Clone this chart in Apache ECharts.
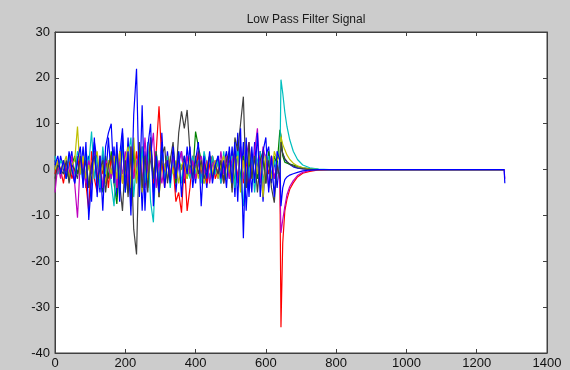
<!DOCTYPE html>
<html>
<head>
<meta charset="utf-8">
<script src="https://cdn.jsdelivr.net/npm/echarts@6/dist/echarts.min.js"></script>
<style>
  html, body { margin: 0; padding: 0; background: #cccccc; }
  #chart { width: 570px; height: 370px; }
</style>
</head>
<body>
<div id="chart"></div>
<script>
// Sample positions of the raw (noisy) part of each channel
const xNoise = [0, 8, 16, 24, 32, 40, 48, 56, 64, 72,
  80, 88, 96, 104, 112, 120, 128, 136, 144, 152,
  160, 168, 176, 184, 192, 200, 208, 216, 224, 232,
  240, 248, 256, 264, 272, 280, 288, 296, 304, 312,
  320, 328, 336, 344, 352, 360, 368, 376, 384, 392,
  400, 408, 416, 424, 432, 440, 448, 456, 464, 472,
  480, 488, 496, 504, 512, 520, 528, 536, 544, 552,
  560, 568, 576, 584, 592, 600, 608, 616, 624, 632,
  640];
// Sample positions of the filter response tail
const xDecay = [643, 648, 654, 660, 668, 678, 690, 705, 725, 750, 780, 1278];
const xEnd = [1280];

// Channel 1 (blue)
const blueA = [2, -1, 3, 0, -2, 1, 4, -3, 2, -1,
  5, -4, 3, -7, 6, 2, -5, 4, -3, 7,
  -2, 5, -6, 3, 9, -4, 7, -8, 5, -3,
  6, -9, 4, -2, 7, -5, 3, -6, 8, -3,
  4, -2, 3, -5, 2, 4, -3, 5, -1, 2,
  -3, 4, -2, 1, -4, 3, 2, -1, 3, -3,
  1, 4, -2, 5, -6, 8, -4, 6, -9, 3,
  -5, 6, -2, 4, -7, 3, 5, -3, 2, -4,
  3];
const blueADecay = [5, 3.5, 2.2, 1.6, 1.1, 0.6, 0.3, 0.15, 0.05, 0, 0, 0];

// Channel 2 (green)
const green = [0, 1, -1, 2, 0, -2, 1, 3, -1, 2,
  -2, 3, -4, 1, 4, -3, 2, -5, 3, -2,
  4, -3, -7.5, 2, 5, -4, 3, -6, 4, -2,
  5, -3, 2, -4, 3, -2, 4, -3, 2, -1,
  3, -2, 1, -3, 2, 0, 3, -2, 1, -1,
  8.3, 5, 2, -3, 1, -2, 3, -1, 2, 0,
  -2, 3, -1, 2, -3, 4, -2, 3, -4, 2,
  -1, 3, -2, 1, 2, -3, 4, -2, 3, 1,
  8.7];
const greenDecay = [7.5, 3, 1.6, 1.4, 1.2, 1, 0.7, 0.4, 0.2, 0.05, 0, 0];

// Channel 3 (red)
const red = [-1, 2, 0, -3, 1, 2, -2, 0, 3, -1,
  2, -3, -9, 4, -2, -5, 3, -1, 2, -4,
  3, -2, -4, 4, -3, 2, -5, 3, -2, 4,
  -3, 5, -4, 2, 6, -3, 4, 13.8, 2, -4,
  3, -2, 1, -7, -5, -9.4, 2, -9, -4, 3,
  -2, 4, -1, 2, -3, 1, 3, -2, 0, 2,
  -3, 1, 2, -4, 3, -2, 5, -3, 2, -4,
  3, -2, 1, 4, -3, 2, -1, 3, -2, 1,
  -2];
const redDecay = [-34.4, -16, -9, -6.5, -4.3, -2.9, -1.6, -0.8, -0.4, -0.1, 0, 0];

// Channel 4 (cyan)
const cyan = [3, -1, 2, 1, -2, 3, 0, -1, 4, 2,
  -3, 4, 1, 8.3, -2, 3, -4, 5, -1, 2,
  -3, -8, 4, -2, 6, -5, 3, 7, -6, 2,
  -4, 5, -3, 6, -7, -11.5, 4, -3, 5, -2,
  3, -4, 2, -1, 4, -3, 2, 1, -2, 3,
  -1, 2, -3, 4, 1, -2, 3, -1, 2, -3,
  4, -2, 1, 3, -4, 5, -3, -8, 4, -2,
  3, -5, 2, 4, -3, 1, 3, -2, 2, -1,
  1];
const cyanDecay = [19.6, 16.7, 12.5, 9.4, 6.5, 4, 2.2, 1, 0.4, 0.1, 0, 0];

// Channel 5 (magenta)
const magenta = [-5, 1, -2, 2, 0, -1, 3, -3, -10.5, 2,
  1, -3, 2, -1, 4, -2, 3, -4, 2, 1,
  -2, 3, -4, 2, -1, 4, -3, 5, -2, 1,
  4, -3, 7, -2, 3, 8, -4, 2, -3, 1,
  2, -1, 3, -2, 1, 4, -2, 3, -1, 2,
  -2, 1, 3, -1, 2, -3, 1, 2, -2, 4,
  -1, 3, -2, 2, 4, -3, 5, -2, 3, 6,
  -2, 4, 9, -3, 5, 2, -4, 3, -2, 1,
  -3];
const magentaDecay = [-13.8, -11, -8, -5.5, -3.7, -2.4, -1.3, -0.6, -0.2, 0, 0, 0];
const magentaEnd = [-2];

// Channel 6 (olive yellow)
const yellow = [0, 2, -1, 1, 3, -2, 1, 2, 9.4, -1,
  3, -2, 1, -3, 2, 4, -2, 1, -3, 2,
  -1, 3, -2, 4, -3, 2, 5, -4, 7, -3,
  3, -5, 2, -2, 4, -1, 3, -6, 2, 1,
  -2, 3, -1, 2, -3, 1, 2, -2, 3, -1,
  1, -2, 2, -3, 1, 3, -1, 2, -2, 1,
  3, -2, 1, -4, 2, 3, -5, 2, -3, 4,
  -2, 3, -1, 2, -6, 3, 1, -2, 4, 2,
  3];
const yellowDecay = [7.2, 5.5, 4.3, 3.2, 2.2, 1.4, 0.8, 0.4, 0.1, 0, 0, 0];

// Channel 7 (dark grey)
const grey = [-2, 1, 0, -1, 2, -3, 1, 0, -2, 3,
  -1, 2, -4, 1, 3, -2, 0, 2, -5, 1,
  3, -2, 4, -3, -9, 2, -6, 5, -13, -18.5,
  6, -4, 3, -5, 7, -2, 4, -6, 3, 5,
  -3, 2, 6, -2, 8, 12.7, 9, 13, 4, -2,
  3, -1, 2, -2, 0, 3, -2, 1, -1, 2,
  -3, 2, 4, -5, 7, 4, 10, 15.9, -4, 6,
  -2, 3, -5, 2, 4, -3, 2, -4, -7.2, 1,
  -2];
const greyDecay = [6, 3.5, 2.4, 1.8, 1.2, 0.8, 0.4, 0.2, 0, 0, 0, 0];

// Channel 8 (blue, drawn last)
const blueB = [1, 3, -1, 2, -2, 4, 0, -3, 2, 5,
  -4, 6, -11, -2, 7, -6, 3, -9, 5, 8,
  10, -3, 6, -7, 8, -5, 4, -10, 12, 22,
  -6, 14, -9, 5, 10, -8, 3, -5, 6, -4,
  2, -3, 5, -2, 4, -6, 3, -1, 5, -4,
  2, 6, -8, 3, -2, 4, -3, 1, 3, -2,
  2, -4, 5, -3, 6, -7, 9, -15, 7, -6,
  5, -3, 8, -6, 4, 7, -5, 3, -6, 4,
  2];
const blueBDecay = [-8, -4, -2.2, -1.6, -1.2, -0.9, -0.6, -0.3, -0.1, 0, 0, 0];
const blueBEnd = [-3];

const xTicks = [0, 200, 400, 600, 800, 1000, 1200, 1400];
const yTicks = [-40, -30, -20, -10, 0, 10, 20, 30];

function pairs(noise, decay, end) {
  const out = [];
  noise.forEach((v, i) => out.push([xNoise[i], v]));
  decay.forEach((v, i) => out.push([xDecay[i], v]));
  (end || []).forEach((v, i) => out.push([xEnd[i], v]));
  return out;
}

const channels = [
  { data: pairs(blueA, blueADecay), color: '#0000ff' },
  { data: pairs(green, greenDecay), color: '#008000' },
  { data: pairs(red, redDecay), color: '#ff0000' },
  { data: pairs(cyan, cyanDecay), color: '#00bfbf' },
  { data: pairs(magenta, magentaDecay, magentaEnd), color: '#bf00bf' },
  { data: pairs(yellow, yellowDecay), color: '#bfbf00' },
  { data: pairs(grey, greyDecay), color: '#404040' },
  { data: pairs(blueB, blueBDecay, blueBEnd), color: '#0000ff' }
];

const font = 'Liberation Sans, Arial, sans-serif';
const axisLineStyle = { color: '#404040', width: 1 };
const plain = v => String(v);

const chart = echarts.init(document.getElementById('chart'), null, { renderer: 'canvas' });
chart.setOption({
  animation: false,
  backgroundColor: '#cccccc',
  title: {
    text: 'Low Pass Filter Signal',
    left: 301, top: 9, textAlign: 'center',
    textStyle: { fontFamily: font, fontSize: 12, fontWeight: 'normal', color: '#1a1a1a' }
  },
  grid: {
    left: 55, right: 23, top: 32, bottom: 16,
    show: true, backgroundColor: '#ffffff', borderColor: '#404040', borderWidth: 1
  },
  xAxis: [{
    type: 'value', min: xTicks[0], max: xTicks[xTicks.length - 1], interval: 200,
    axisLine: { show: true, onZero: false, lineStyle: axisLineStyle },
    axisTick: { show: true, inside: true, length: 4, lineStyle: axisLineStyle },
    axisLabel: { fontFamily: font, fontSize: 13, color: '#111', margin: 4, formatter: plain },
    splitLine: { show: false }
  }, {
    type: 'value', position: 'top', min: xTicks[0], max: xTicks[xTicks.length - 1], interval: 200,
    axisLine: { show: true, onZero: false, lineStyle: axisLineStyle },
    axisTick: { show: true, inside: true, length: 4, lineStyle: axisLineStyle },
    axisLabel: { show: false }, splitLine: { show: false }
  }],
  yAxis: [{
    type: 'value', min: yTicks[0], max: yTicks[yTicks.length - 1], interval: 10,
    axisLine: { show: true, onZero: false, lineStyle: axisLineStyle },
    axisTick: { show: true, inside: true, length: 4, lineStyle: axisLineStyle },
    axisLabel: { fontFamily: font, fontSize: 13, color: '#111', margin: 5, formatter: plain },
    splitLine: { show: false }
  }, {
    type: 'value', position: 'right', min: yTicks[0], max: yTicks[yTicks.length - 1], interval: 10,
    axisLine: { show: true, onZero: false, lineStyle: axisLineStyle },
    axisTick: { show: true, inside: true, length: 4, lineStyle: axisLineStyle },
    axisLabel: { show: false }, splitLine: { show: false }
  }],
  series: channels.map(c => ({
    type: 'line',
    data: c.data,
    showSymbol: false,
    symbol: 'none',
    silent: true,
    lineStyle: { color: c.color, width: 1.2 },
    itemStyle: { color: c.color }
  }))
});
</script>
</body>
</html>
